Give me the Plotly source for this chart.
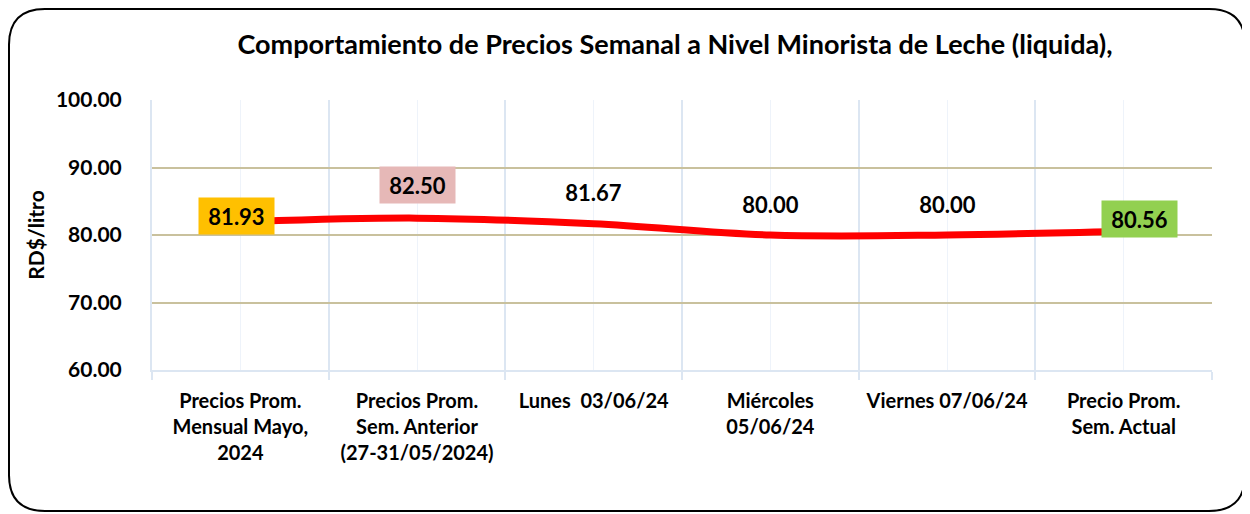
import plotly.graph_objects as go

categorias = ["Precios Prom.<br>Mensual Mayo,<br>2024",
              "Precios Prom.<br>Sem. Anterior<br>(27-31/05/2024)",
              "Lunes  03/06/24",
              "Miércoles<br>05/06/24",
              "Viernes 07/06/24",
              "Precio Prom.<br>Sem. Actual"]
precios = [81.93, 82.50, 81.67, 80.00, 80.00, 80.56]
etiquetas = ["81.93", "82.50", "81.67", "80.00", "80.00", "80.56"]
fondos = ["#FFC000", "#E6B8B7", None, None, None, "#92D050"]

# the page body has an 8px margin, so the figure is a bit smaller than the window
W, H = 1242, 506
L, R, T, B = 144, 38, 92, 144
pw, ph = W - L - R, H - T - B

def px2paper(x, y):
    return (x - L) / pw, (H - B - y) / ph

xs = list(range(len(categorias)))

fig = go.Figure()
fig.add_trace(go.Scatter(x=xs, y=precios, mode="lines",
                         line=dict(color="#FF0000", width=7, shape="spline", smoothing=1.0),
                         hoverinfo="skip", showlegend=False))

# etiquetas de datos
desplaz = [6, 33, 32, 31, 31, 12]
xdesp = [-4, 0, 0, 0, 0, 16]
for i, (x, y) in enumerate(zip(xs, precios)):
    fig.add_annotation(x=x, y=y, text="<b>" + etiquetas[i] + "</b>", showarrow=False,
                       yshift=desplaz[i], xshift=xdesp[i],
                       font=dict(family="Lato", size=22, color="black"),
                       bgcolor=fondos[i] if fondos[i] else "rgba(0,0,0,0)",
                       width=73, height=34)

# borde redondeado
x0, y0, x1, y1, r = 1, 1, 1237, 503, 36
def P(x, y):
    a, b = px2paper(x, y)
    return f"{a:.5f},{b:.5f}"
path = (f"M {P(x0 + r, y0)} L {P(x1 - r, y0)} Q {P(x1, y0)} {P(x1, y0 + r)} "
        f"L {P(x1, y1 - r)} Q {P(x1, y1)} {P(x1 - r, y1)} "
        f"L {P(x0 + r, y1)} Q {P(x0, y1)} {P(x0, y1 - r)} "
        f"L {P(x0, y0 + r)} Q {P(x0, y0)} {P(x0 + r, y0)} Z")
fig.add_shape(type="path", path=path, xref="paper", yref="paper",
              line=dict(color="black", width=2), layer="above")

fig.update_layout(
    width=W, height=H,
    margin=dict(l=L, r=R, t=T, b=B),
    paper_bgcolor="white", plot_bgcolor="white",
    title=dict(text="<b>Comportamiento de Precios Semanal a Nivel Minorista de Leche (liquida),</b>",
               x=667 / W, xanchor="center", y=1 - 37 / H, yanchor="middle",
               font=dict(family="Lato", size=27, color="black")),
    font=dict(family="Lato", color="black"),
)
fig.update_xaxes(range=[-0.5, len(categorias) - 0.5], tickvals=xs, ticktext=["<b>" + c + "</b>" for c in categorias],
                 tickfont=dict(family="Lato", size=20, color="black"),
                 showgrid=True, gridcolor="#EEF3FA", gridwidth=1,
                 ticks="", ticklabelstandoff=12,
                 minor=dict(tickvals=[i - 0.5 for i in range(len(categorias) + 1)], showgrid=True,
                            gridcolor="#DCE6F2", gridwidth=2, ticks="outside", ticklen=8,
                            tickcolor="#DCE6F2", tickwidth=2),
                 showline=True, linecolor="#DCE6F2", linewidth=2, zeroline=False, fixedrange=True)
fig.update_yaxes(range=[60, 100], dtick=10, tickformat=".2f",
                 tickfont=dict(family="Lato", size=21, color="black"),
                 tickprefix="<b>", ticksuffix="</b>",
                 showgrid=True, gridcolor="#C9C19D", gridwidth=2,
                 showline=True, linecolor="#DCE6F2", linewidth=2, zeroline=False,
                 ticks="", ticklabelstandoff=24,
                 title=dict(text="<b>RD$/litro</b>", font=dict(family="Lato", size=21, color="black"),
                            standoff=6))

fig.write_html("out.html")
